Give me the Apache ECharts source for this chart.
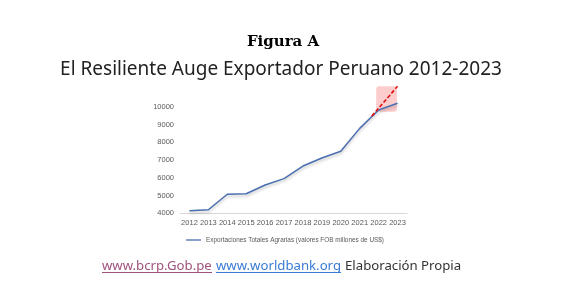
<!DOCTYPE html>
<html><head><meta charset="utf-8">
<script src="https://cdn.jsdelivr.net/npm/echarts@6/dist/echarts.min.js"></script>
<style>html,body{margin:0;padding:0;background:#fff}#c{width:564px;height:285px}</style>
</head><body><div id="c"></div>
<script>
const years = ['2012','2013','2014','2015','2016','2017','2018','2019','2020','2021','2022','2023'];
const exportValues = [4150,4200,5070,5100,5590,5950,6660,7110,7490,8780,9810,10190];
const trendPoints = [[9.64,9470],[11.0,11150]];
const highlightBox = [[9.87,9710,10.97,11150]];
const yTicks = {min:4000,max:10000,interval:1000};
const seriesName = 'Exportaciones Totales Agrarias (valores FOB millones de US$)';

const chart = echarts.init(document.getElementById('c'), null, {renderer:'canvas'});
chart.setOption({
  backgroundColor:'#fff',
  animation:false,
  grid:{left:180,right:157,top:106.7,bottom:71.7},
  xAxis:[
    {type:'category',data:years,boundaryGap:true,
     axisLine:{lineStyle:{color:'#d9d9d9'}},axisTick:{show:false},
     axisLabel:{color:'#595959',fontSize:7.5,margin:6,fontFamily:'Liberation Sans',interval:0}},
    {type:'value',min:-0.5,max:11.5,show:false}
  ],
  yAxis:{type:'value',min:yTicks.min,max:yTicks.max,interval:yTicks.interval,
    axisLine:{show:false},axisTick:{show:false},splitLine:{show:false},
    axisLabel:{color:'#595959',fontSize:7.5,margin:6,fontFamily:'Liberation Sans',formatter:function(v){return String(v);}}},
  legend:{data:[{name:seriesName,icon:'rect'}],left:181,top:232,itemWidth:15,itemHeight:1.3,itemGap:4,
    textStyle:{color:'#595959',fontSize:6.4,fontFamily:'Liberation Sans'}},
  series:[
    {type:'custom',xAxisIndex:1,yAxisIndex:0,clip:false,silent:true,z:1,
     data:highlightBox,
     renderItem:function(params,api){
       const p1=api.coord([api.value(0),api.value(3)]);
       const p2=api.coord([api.value(2),api.value(1)]);
       return {type:'rect',shape:{x:p1[0],y:p1[1],width:p2[0]-p1[0],height:p2[1]-p1[1],r:3},
         style:{fill:'rgba(250,130,130,0.4)'}};
     }},
    {name:seriesName,type:'line',data:exportValues,symbol:'none',clip:false,z:2,
     lineStyle:{color:'#4a6fb0',width:1.5,shadowColor:'rgba(0,0,0,0.25)',shadowBlur:3,shadowOffsetY:2},
     itemStyle:{color:'#4a6fb0'}},
    {type:'line',xAxisIndex:1,yAxisIndex:0,data:trendPoints,symbol:'none',clip:false,z:3,
     lineStyle:{color:'#e01010',width:1.6,type:[4,2]}}
  ],
  graphic:[
    {type:'text',x:283,y:42,style:{text:'Figura A',font:'900 15px "DejaVu Serif"',fill:'#000',align:'center',verticalAlign:'middle'}},
    {type:'text',x:281,y:70,style:{text:'El Resiliente Auge Exportador Peruano 2012-2023',font:'19px "Noto Sans"',fill:'#222',align:'center',verticalAlign:'middle'}},
    {type:'text',x:102,y:266,style:{text:'www.bcrp.Gob.pe',font:'13.2px "Noto Sans"',fill:'#a0527e',verticalAlign:'middle'}},
    {type:'text',x:216,y:266,style:{text:'www.worldbank.org',font:'13.2px "Noto Sans"',fill:'#3a7bd5',verticalAlign:'middle'}},
    {type:'text',x:345,y:266,style:{text:'Elaboración Propia',font:'13.2px "Noto Sans"',fill:'#333',verticalAlign:'middle'}},
    {type:'rect',shape:{x:102,y:272,width:110,height:0.9},style:{fill:'#a0527e'}},
    {type:'rect',shape:{x:216,y:272,width:125,height:0.9},style:{fill:'#3a7bd5'}}
  ]
});
</script></body></html>
